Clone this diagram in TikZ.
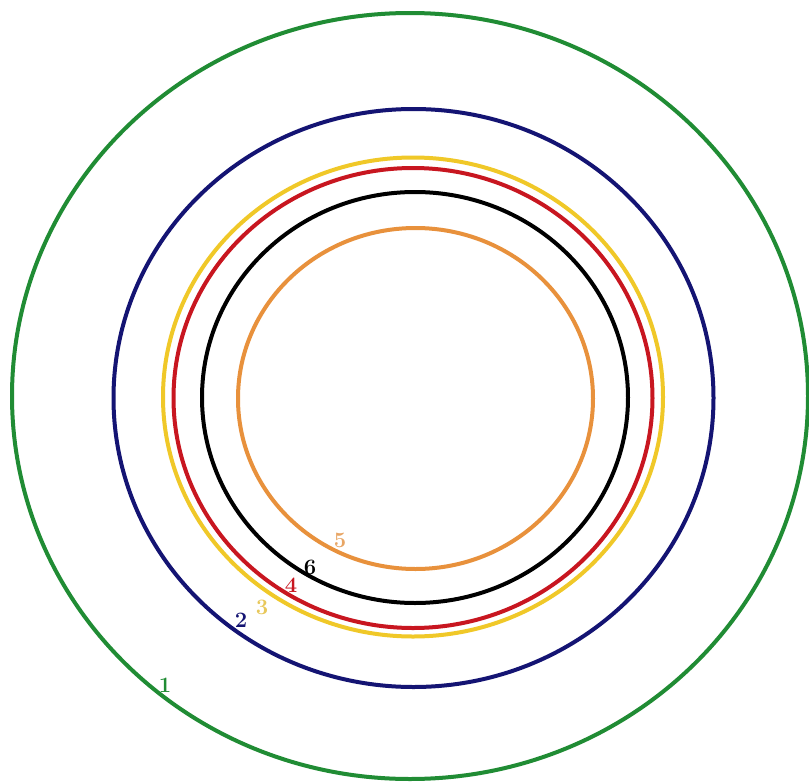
\documentclass[tikz,border=0pt]{standalone}
\definecolor{cgreen}{RGB}{32,140,52}
\definecolor{cblue}{RGB}{20,20,115}
\definecolor{cyellow}{RGB}{240,200,40}
\definecolor{cred}{RGB}{200,22,32}
\definecolor{corange}{RGB}{232,145,60}
\definecolor{lyellow}{RGB}{232,200,90}
\definecolor{lorange}{RGB}{232,165,100}
\begin{document}
\begin{tikzpicture}[x=1pt,y=-1pt,
  ring/.style={line width=4pt},
  lbl/.style={font=\fontsize{22}{24}\selectfont\bfseries, inner sep=0pt}]
\useasboundingbox (0,0) rectangle (809,782);
\fill[white] (0,0) rectangle (809,782);
\draw[ring,cgreen] (410,396) ellipse [x radius=398, y radius=383];
\draw[ring,cblue] (413.5,398) ellipse [x radius=300, y radius=289];
\draw[ring,cyellow] (413,397) ellipse [x radius=250, y radius=239.5];
\draw[ring,cred] (413,398) ellipse [x radius=239.5, y radius=230];
\draw[ring,black] (415,397.5) ellipse [x radius=213, y radius=205.5];
\draw[ring,corange] (415.5,398.5) ellipse [x radius=177.5, y radius=170.5];
\node[lbl,text=cgreen] (l1) at (165,685) {1};
\node[lbl,text=cblue] (l2) at (241,620) {2};
\node[lbl,text=lyellow] (l3) at (262,607) {3};
\node[lbl,text=cred] (l4) at (291,585) {4};
\node[lbl,text=black] (l6) at (310,567) {6};
\node[lbl,text=lorange] (l5) at (340,540) {5};
\end{tikzpicture}
\end{document}
